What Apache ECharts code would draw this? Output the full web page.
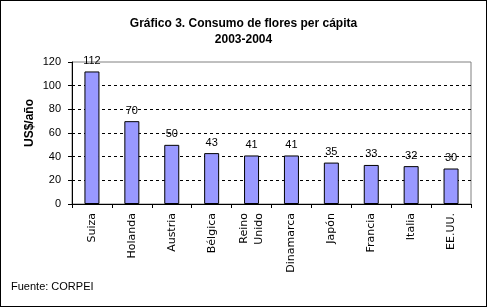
<!DOCTYPE html>
<html><head><meta charset="utf-8">
<script src="https://cdn.jsdelivr.net/npm/echarts@6/dist/echarts.min.js"></script>
<style>html,body{margin:0;padding:0;background:#fff}#c{width:487px;height:307px;box-sizing:border-box;border:1px solid #000}</style>
</head><body><div id="c"></div>
<script>
const categories = ['Suiza','Holanda','Austria','Bélgica','Reino\nUnido','Dinamarca','Japón','Francia','Italia','EE.UU.'];
const values = [112,70,50,43,41,41,35,33,32,30];
const yTicks = {min:0,max:120,interval:20};
const titleLines = ['Gráfico 3. Consumo de flores per cápita','2003-2004'];
const yName = 'US$/año';
const source = 'Fuente: CORPEI';

const chart = echarts.init(document.getElementById('c'), null, {renderer:'canvas'});
const F = 'Arial, "Liberation Sans", sans-serif';
const FW = '"DejaVu Sans", sans-serif';
chart.setOption({
  animation:false,
  backgroundColor:'#fff',
  title:{text:titleLines.join('\n'), left:'center', top:10,
    textStyle:{fontFamily:F,fontSize:12,fontWeight:'bold',color:'#000',lineHeight:16}},
  grid:{left:71,right:15,top:61,bottom:102,show:true,borderColor:'#808080',borderWidth:1,backgroundColor:'transparent'},
  xAxis:{type:'category',data:categories,boundaryGap:true,
    axisLine:{lineStyle:{color:'#000',width:1}},
    axisTick:{show:true,length:4,lineStyle:{color:'#000'},alignWithLabel:false},
    axisLabel:{rotate:90,fontFamily:FW,fontSize:11,color:'#000',margin:9,lineHeight:15,interval:0}},
  yAxis:{type:'value',min:yTicks.min,max:yTicks.max,interval:yTicks.interval,
    axisLine:{show:true,lineStyle:{color:'#000',width:1}},
    axisTick:{show:true,length:4,lineStyle:{color:'#000'}},
    axisLabel:{fontFamily:F,fontSize:11,color:'#000',margin:11},
    splitLine:{show:true,showMinLine:false,showMaxLine:false,lineStyle:{color:'#000',type:[3,3],width:1}}},
  graphic:[
    {type:'text',left:10,top:280,style:{text:source,font:'11px '+F,fill:'#000'}},
    {type:'text',x:29,y:122,rotation:Math.PI/2,style:{text:yName,font:'bold 12px '+F,fill:'#000',align:'center',verticalAlign:'middle'}}
  ],
  series:[{type:'bar',data:values,barWidth:15,
    itemStyle:{color:'#9999FF',borderColor:'#000',borderWidth:1},
    label:{show:true,position:'top',distance:5,fontFamily:F,fontSize:11,color:'#000'}}]
});
</script></body></html>
